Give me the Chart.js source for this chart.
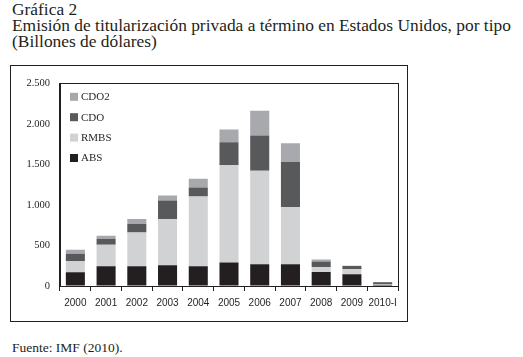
<!DOCTYPE html>
<html lang="es">
<head>
<meta charset="UTF-8">
<title>Gráfica 2</title>
<script src="https://cdn.jsdelivr.net/npm/chart.js"></script>
<style>
    body {
        margin: 0;
        background: #fff;
        width: 523px;
        height: 357px;
        position: relative;
        overflow: hidden;
        font-family: "Liberation Serif", "DejaVu Serif", serif;
        color: #231f20;
    }
    .title {
        position: absolute;
        left: 12px;
        top: 1px;
        font-size: 17.4px;
        line-height: 16px;
        white-space: nowrap;
    }
    .frame {
        position: absolute;
        left: 10px;
        top: 65px;
        width: 396px;
        height: 255px;
        border: 1px solid #231f20;
    }
    .frame canvas {
        position: absolute;
        left: 1px;
        top: 1px;
    }
    .source {
        position: absolute;
        left: 12px;
        top: 340px;
        font-size: 13.5px;
        white-space: nowrap;
    }
</style>
</head>
<body>

<div class="title">Gráfica 2<br>Emisión de titularización privada a término en Estados Unidos, por tipo<br>(Billones de dólares)</div>

<div class="frame">
    <canvas id="chart" width="395" height="254"></canvas>
</div>

<div class="source">Fuente: IMF (2010).</div>

<script>
    // Data (billions of dollars)
    const years = ['2000', '2001', '2002', '2003', '2004', '2005', '2006', '2007', '2008', '2009', '2010-I'];
    const absData  = [170, 243, 243, 255, 243, 291, 267, 267, 174, 146, 12];
    const rmbsData = [137, 267, 416, 570, 862, 1202, 1153, 704, 60, 60, 8];
    const cdoData  = [90, 73, 106, 231, 109, 279, 437, 559, 69, 40, 25];
    const cdo2Data = [49, 36, 60, 61, 109, 158, 304, 230, 25, 4, 4];
    const yTicks = [0, 500, 1000, 1500, 2000, 2500];

    const ink = '#231f20';

    // box around the plot area
    const plotFrame = {
        id: 'plotFrame',
        afterDraw(chart) {
            const a = chart.chartArea;
            const ctx = chart.ctx;
            ctx.save();
            ctx.strokeStyle = ink;
            ctx.lineWidth = 1;
            ctx.strokeRect(Math.round(a.left) - 0.5, Math.round(a.top) + 0.5, Math.round(a.right - a.left) + 1, Math.round(a.bottom - a.top));
            ctx.restore();
        }
    };

    // vertical legend in the upper left of the plot, top item = top of stack
    const stackLegend = {
        id: 'stackLegend',
        afterDraw(chart) {
            const a = chart.chartArea;
            const ctx = chart.ctx;
            const sets = chart.data.datasets.slice().reverse();
            ctx.save();
            ctx.font = '11px "Liberation Serif"';
            ctx.textBaseline = 'middle';
            sets.forEach((ds, i) => {
                const y = a.top + 13.5 + i * 20.4;
                ctx.fillStyle = ds.backgroundColor;
                ctx.fillRect(a.left + 10, y - 4, 8, 8);
                ctx.fillStyle = ink;
                ctx.fillText(ds.label, a.left + 21, y + 0.5);
            });
            ctx.restore();
        }
    };

    function fmt(v) {
        return String(v).replace(/\B(?=(\d{3})+(?!\d))/g, '.');
    }

    new Chart(document.getElementById('chart'), {
        type: 'bar',
        data: {
            labels: years,
            datasets: [
                { label: 'ABS', data: absData, backgroundColor: '#231f20' },
                { label: 'RMBS', data: rmbsData, backgroundColor: '#d1d2d3' },
                { label: 'CDO', data: cdoData, backgroundColor: '#58595b' },
                { label: 'CDO2', data: cdo2Data, backgroundColor: '#a7a9ac' }
            ]
        },
        options: {
            responsive: false,
            animation: false,
            layout: { padding: { left: 0, right: 9, top: 13, bottom: 0 } },
            datasets: {
                bar: { categoryPercentage: 1, barPercentage: 0.62, borderWidth: 0 }
            },
            plugins: {
                legend: { display: false },
                tooltip: { enabled: false }
            },
            scales: {
                x: {
                    stacked: true,
                    offset: true,
                    afterFit(scale) { scale.height = 35; },
                    grid: {
                        display: true,
                        offset: true,
                        drawOnChartArea: false,
                        drawTicks: true,
                        tickLength: 5,
                        color: ink
                    },
                    border: { display: true, color: ink, width: 1 },
                    ticks: {
                        color: ink,
                        padding: 6,
                        maxRotation: 0,
                        autoSkip: false,
                        font: { family: 'Liberation Sans', size: 10 }
                    }
                },
                y: {
                    stacked: true,
                    min: 0,
                    max: 2500,
                    afterFit(scale) { scale.width = 48; },
                    afterBuildTicks(scale) { scale.ticks = yTicks.map(v => ({ value: v })); },
                    grid: { display: true, drawOnChartArea: false, drawTicks: false },
                    border: { display: true, color: ink, width: 1 },
                    ticks: {
                        color: ink,
                        padding: 10,
                        font: { family: 'Liberation Serif', size: 10.5 },
                        callback: v => fmt(v)
                    }
                }
            }
        },
        plugins: [plotFrame, stackLegend]
    });
</script>
</body>
</html>
